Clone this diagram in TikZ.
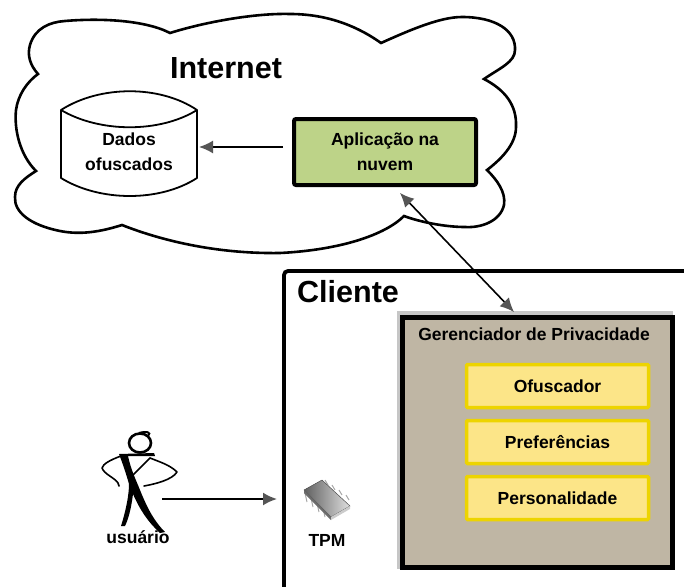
\documentclass[tikz,border=0pt]{standalone}
\usepackage{fontspec}
\setmainfont{Liberation Sans}
\usetikzlibrary{arrows.meta}
\definecolor{appgreen}{HTML}{BDD388}
\definecolor{mgrfill}{HTML}{BFB6A4}
\definecolor{itemfill}{HTML}{FCE588}
\definecolor{itemline}{HTML}{EDD400}
\definecolor{headgray}{HTML}{555555}
\tikzset{
  every node/.style={font=\bfseries\fontsize{17.5}{25}\selectfont, align=center, inner sep=0pt},
  bigtext/.style={font=\bfseries\fontsize{30.5}{34}\selectfont},
  itembox/.style={draw=itemline, fill=itemfill, line width=3.5pt, rounded corners=1pt, minimum width=182pt, minimum height=43pt},
  conn/.style={draw=black, line width=1.6pt, line cap=butt},
  tip/.style={-{Latex[length=14pt,width=13pt,fill=headgray,color=headgray]}},
  bitip/.style={{Latex[length=14pt,width=13pt,fill=headgray,color=headgray]}-{Latex[length=14pt,width=13pt,fill=headgray,color=headgray]}},
}
\begin{document}
\begin{tikzpicture}[x=1pt,y=-1pt]
\useasboundingbox (0,0) rectangle (684,586);
% cloud
\draw[line width=2.6pt, line join=miter, fill=white]
 (170,33) .. controls (205,22) and (255,13) .. (290,14) .. controls (330,14) and (360,28) .. (381,43)
 .. controls (410,30) and (440,17) .. (462,17) .. controls (495,17) and (516,30) .. (515,50)
 .. controls (515,62) and (500,68) .. (484,79) .. controls (505,90) and (517,105) .. (516,127)
 .. controls (516,145) and (500,160) .. (487,170) .. controls (497,180) and (506,192) .. (504,205)
 .. controls (500,222) and (480,228) .. (465,227) .. controls (445,227) and (420,222) .. (404,216)
 .. controls (385,235) and (340,250) .. (280,253) .. controls (215,254) and (160,240) .. (122,225)
 .. controls (100,232) and (80,235) .. (60,231) .. controls (30,225) and (14,212) .. (15,197)
 .. controls (15,185) and (25,178) .. (36,171) .. controls (20,155) and (14,130) .. (16,110)
 .. controls (18,95) and (27,82) .. (38,74) .. controls (30,65) and (27,55) .. (30,45)
 .. controls (35,28) and (50,22) .. (65,21) .. controls (100,18) and (145,20) .. (170,33) -- cycle;
\node[bigtext] (internet) at (226,68) {Internet};
% cylinder
\draw[line width=1.8pt, fill=white, line join=round]
 (61,110) .. controls (100,85) and (160,85) .. (197,110) -- (197,178)
 .. controls (160,202) and (100,202) .. (61,178) -- cycle;
\draw[line width=1.8pt] (61,110) .. controls (100,133) and (160,133) .. (197,110);
\node (dados) at (129,152) {Dados\\ofuscados};
% application
\node[draw=black, fill=appgreen, line width=4pt, rounded corners=2pt, minimum width=182pt, minimum height=66pt] (app) at (385,152) {Aplicação na\\nuvem};
\coordinate (appout) at (283,147);
\coordinate (dataIn) at (199,147);
\draw[conn,tip] (appout) -- (dataIn);
% client
\draw[line width=3.8pt, rounded corners=4pt] (284,592) -- (284,271) -- (692,271);
\node[bigtext, anchor=base west] (cliente) at (297,302) {Cliente};
% manager
\draw[draw=gray, opacity=.45, line width=8pt] (401,315) rectangle (669,565);
\node[draw=black, fill=mgrfill, line width=5pt, minimum width=270pt, minimum height=250pt, anchor=north west] (mgr) at (400,315) {};
\node (mgrtitle) at (534,334) {Gerenciador de Privacidade};
\node[itembox] (ofus) at (557.5,386) {Ofuscador};
\node[itembox] (pref) at (557.5,442) {Preferências};
\node[itembox] (pers) at (557.5,498) {Personalidade};
\coordinate (mgrtop) at (514,312);
\coordinate (appbot) at (400,193);
\draw[conn,bitip] (appbot) -- (mgrtop);
% user figure
\draw[line width=2.6pt] (140,443) ellipse (11pt and 9.5pt);
\draw[line width=2pt] (148,436) .. controls (152,432) and (146,431) .. (139,433);
\fill (119,454) -- (154,453) -- (155,456) -- (128,456) .. controls (131,470) and (136,480) .. (140,490)
 .. controls (148,510) and (155,522) .. (165,532) -- (160,533) .. controls (148,522) and (140,510) .. (133,494)
 .. controls (131,510) and (128,520) .. (125,526) -- (121,526) .. controls (126,510) and (129,495) .. (129,484)
 .. controls (125,470) and (122,462) .. (119,454) -- cycle;
\draw[line width=1.6pt, line cap=round, line join=round] (121,456) .. controls (110,460) and (103,464) .. (102,468) .. controls (104,474) and (115,478) .. (118,483) -- (119,486);
\draw[line width=1.6pt, line cap=round, line join=round] (150,458) .. controls (160,462) and (170,465) .. (177,472) .. controls (172,480) and (155,484) .. (144,486);
\draw[line width=1.6pt, line cap=round] (150,458) -- (131,477);
\node (usuario) at (138,537) {usuário};
\coordinate (userout) at (162,499);
\coordinate (tpmin) at (277,499);
\draw[conn,tip,line width=2pt] (userout) -- (tpmin);
% chip
\foreach \x/\y in {305/493,311/498,317/503,323/508}{
  \draw[line width=1pt,draw=gray!70] (\x,\y) -- (\x+2,\y+9);
}
\foreach \x/\y in {325/480,332/485,339/490,346/495}{
  \draw[line width=1pt,draw=gray!70] (\x,\y) -- (\x+3,\y+5);
}
\path[left color=gray!75!black, right color=gray!25, draw=gray!60!black, line width=.5pt, line join=round]
 (304,490) -- (322,480) -- (350,506) -- (331,517) -- cycle;
\fill[gray!85!black] (304,490) -- (331,517) -- (331,520) -- (304,493) -- cycle;
\fill[gray!40] (331,517) -- (350,506) -- (350,509) -- (331,520) -- cycle;
\node (tpm) at (327,540) {TPM};
\end{tikzpicture}
\end{document}
